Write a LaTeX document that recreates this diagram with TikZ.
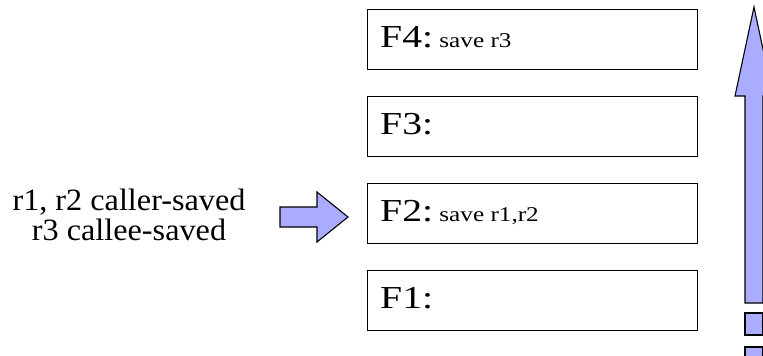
\documentclass[tikz,border=0pt]{standalone}
\usepackage{fontspec}
\setmainfont{Liberation Serif}
\newfontfamily\lblfont[FakeStretch=1.04]{Liberation Serif}
\newfontfamily\bigfont[FakeStretch=1.24]{Liberation Serif}
\newfontfamily\smlfont[FakeStretch=1.2]{Liberation Serif}
\definecolor{arrowfill}{RGB}{170,173,255}
\begin{document}
\begin{tikzpicture}[x=1pt,y=-1pt,
  frame/.style={draw=black, line width=1.3pt, minimum width=330pt, minimum height=60pt, inner sep=0pt, anchor=north west},
  flabel/.style={anchor=base west, inner sep=0pt},
  blockarrow/.style={draw=black, fill=arrowfill, line width=1.1pt, line join=miter}]
\useasboundingbox (0,0) rectangle (763,356);
\clip (0,0) rectangle (763,356);
\node[frame] (f4) at (367,9) {};
\node[frame] (f3) at (367,96) {};
\node[frame] (f2) at (367,183) {};
\node[frame] (f1) at (367,270) {};
\node[flabel] (t4) at ([xshift=13pt,yshift=-38.5pt]f4.north west) {\fontsize{32}{32}\bigfont F4:\fontsize{21}{21}\smlfont\ save r3};
\node[flabel] (t3) at ([xshift=13pt,yshift=-38.5pt]f3.north west) {\fontsize{32}{32}\bigfont F3:};
\node[flabel] (t2) at ([xshift=13pt,yshift=-38.5pt]f2.north west) {\fontsize{32}{32}\bigfont F2:\fontsize{21}{21}\smlfont\ save r1,r2};
\node[flabel] (t1) at ([xshift=13pt,yshift=-38.5pt]f1.north west) {\fontsize{32}{32}\bigfont F1:};
\node[align=center, inner sep=0pt, font=\fontsize{31}{30}\lblfont] (lbl) at (129,215) {r1, r2 caller-saved\\r3 callee-saved};
% right-pointing block arrow
\path[blockarrow] (280,207) -- (317,207) -- (317,192) -- (348,217) -- (317,242) -- (317,227) -- (280,227) -- cycle;
% upward block arrow
\path[blockarrow] (745,303) -- (745,96) -- (735,96) -- (754,7) -- (773,96) -- (763,96) -- (763,303) -- cycle;
\path[blockarrow] (745,313) rectangle (763,335);
\path[blockarrow] (745,347) rectangle (763,369);
\end{tikzpicture}
\end{document}
